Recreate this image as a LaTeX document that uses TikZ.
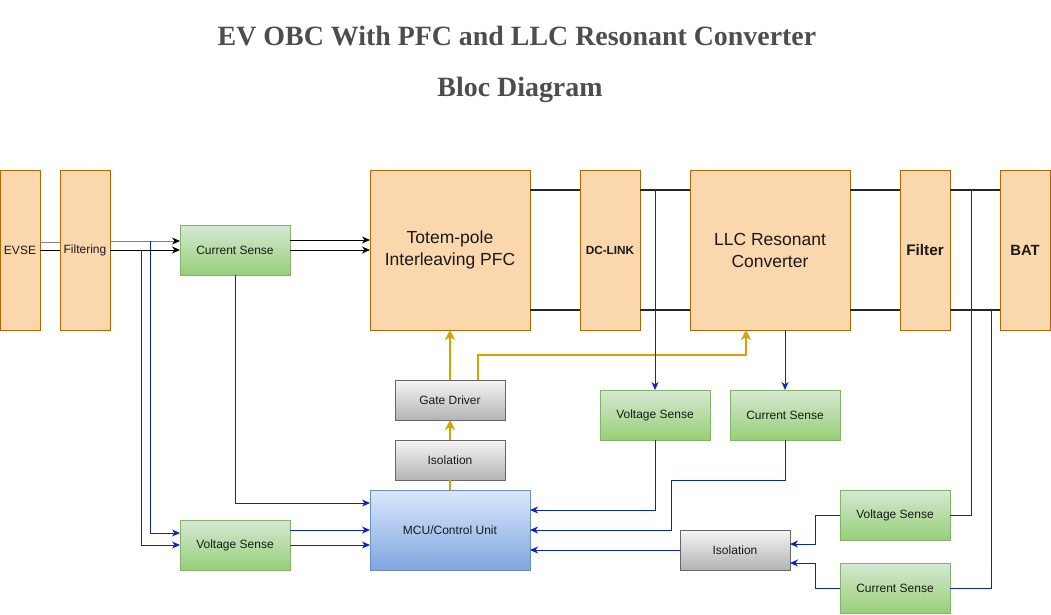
\documentclass[tikz,border=0pt]{standalone}
\usepackage{fontspec}
\setmainfont{Liberation Sans}
\newfontfamily\titlefont{Liberation Serif}
\usetikzlibrary{arrows.meta,calc}
\definecolor{orF}{HTML}{FAD7AC}
\definecolor{orD}{HTML}{B46504}
\definecolor{grT}{HTML}{D5E8D4}
\definecolor{grB}{HTML}{97D077}
\definecolor{grD}{HTML}{82B366}
\definecolor{gyT}{HTML}{F5F5F5}
\definecolor{gyB}{HTML}{B3B3B3}
\definecolor{gyD}{HTML}{666666}
\definecolor{buT}{HTML}{DAE8FC}
\definecolor{buB}{HTML}{7EA6E0}
\definecolor{buD}{HTML}{6C8EBF}
\definecolor{lnB}{HTML}{0A24C4}
\definecolor{gold}{HTML}{DDA000}
\definecolor{ttl}{HTML}{4D4D4D}
\definecolor{txt}{HTML}{1A1A1A}
\tikzset{
  base/.style={rectangle, inner sep=0pt, outer sep=0pt, line width=1pt, align=center, text=txt, font=\fontsize{12}{14}\selectfont},
  mainblk/.style={base, fill=orF, draw=orD},
  sensebox/.style={base, top color=grT, bottom color=grB, draw=grD, minimum width=110pt, minimum height=50pt},
  graybox/.style={base, top color=gyT, bottom color=gyB, draw=gyD, minimum width=110pt, minimum height=40pt},
  mcubox/.style={base, top color=buT, bottom color=buB, draw=buD},
  tip/.style={-{Stealth[length=8pt,width=7pt,inset=2.5pt]}},
  bline/.style={draw=lnB, line width=1pt},
  kline/.style={draw=black, line width=1pt},
  thick line/.style={draw=black!85, line width=2pt},
  oline/.style={draw=gold, line width=2pt},
  otip/.style={-{Stealth[length=10pt,width=10pt,inset=3pt]}},
}
\begin{document}
\begin{tikzpicture}[x=1pt,y=-1pt]
\path[use as bounding box] (0,0) rectangle (1051,614);
% titles
\node[text=ttl, font=\titlefont\bfseries\fontsize{27.9}{30}\selectfont] (t1) at (517,36) {EV OBC With PFC and LLC Resonant Converter};
\node[text=ttl, anchor=base, font=\titlefont\bfseries\fontsize{27.9}{30}\selectfont] (t2) at (520,96.5) {Bloc Diagram};
% main blocks
\node[mainblk, minimum width=40pt, minimum height=160pt] (evse) at (20,250) {EVSE};
\node[mainblk, minimum width=50pt, minimum height=160pt] (fil) at (85,250) {Filtering};
\node[mainblk, minimum width=160pt, minimum height=160pt, font=\fontsize{17.5}{22}\selectfont] (pfc) at (450,250) {Totem-pole\\Interleaving PFC};
\node[mainblk, minimum width=60pt, minimum height=160pt, font=\bfseries\fontsize{11.8}{14}\selectfont] (dcl) at (610,250) {DC-LINK};
\node[mainblk, minimum width=160pt, minimum height=160pt, font=\fontsize{17.5}{22}\selectfont] (llc) at (770,250) {LLC Resonant\\Converter};
\node[mainblk, minimum width=50pt, minimum height=160pt, font=\bfseries\fontsize{15.3}{18}\selectfont] (flt) at (925,250) {Filter};
\node[mainblk, minimum width=50pt, minimum height=160pt, font=\bfseries\fontsize{14.8}{18}\selectfont] (bat) at (1025,250) {BAT};
% sense boxes
\node[sensebox] (cs1) at (235,250) {Current Sense};
\node[sensebox] (vs1) at (235,545) {Voltage Sense};
\node[sensebox] (vs2) at (655,415) {Voltage Sense};
\node[sensebox] (cs2) at (785,415) {Current Sense};
\node[sensebox] (vs3) at (895,515) {Voltage Sense};
\node[sensebox] (cs3) at (895,588) {Current Sense};
% gray boxes
\node[graybox] (gd) at (450,400) {Gate Driver};
\node[graybox] (iso1) at (450,460) {Isolation};
\node[graybox] (iso2) at (735,550) {Isolation};
% MCU
\node[mcubox, minimum width=160pt, minimum height=80pt] (mcu) at (450,530) {MCU/Control Unit};
% junction coordinates
\coordinate (j1) at (150,241);
\coordinate (j2) at (141,250);
\coordinate (j3) at (655,190);
\coordinate (j4) at (671,480);
\coordinate (j5) at (971,190);
\coordinate (j6) at (991,310);
% input lines
\draw[draw=gray, line width=1pt] ([yshift=8pt]evse.east) -- ([yshift=8pt]fil.west);
\draw[kline] (evse.east) -- (fil.west);
\draw[draw=gray, line width=1pt, -{Stealth[length=8pt,width=7pt,inset=2.5pt,color=black]}] ([yshift=9pt]fil.east) -- ([yshift=9pt]cs1.west);
\draw[kline, tip] (fil.east) -- (cs1.west);
\draw[kline, tip] ([yshift=10pt]cs1.east) -- ([yshift=10pt]pfc.west);
\draw[kline, tip] (cs1.east) -- (pfc.west);
% power path
\foreach \a/\b in {pfc/dcl, dcl/llc, llc/flt, flt/bat}{
  \draw[thick line] ([yshift=60pt]\a.east) -- ([yshift=60pt]\b.west);
  \draw[thick line] ([yshift=-60pt]\a.east) -- ([yshift=-60pt]\b.west);
}
% left sensing
\draw[bline, tip] (j1) |- ([yshift=12pt]vs1.west);
\draw[bline, tip] (j2) |- (vs1.west);
\draw[bline, tip] (cs1.south) |- ([yshift=27pt]mcu.west);
\draw[bline, tip] ([yshift=15pt]vs1.east) -- (mcu.west);
\draw[bline, tip] (vs1.east) -- ([yshift=-15pt]mcu.west);
% gate drive
\draw[oline, otip] (gd.north) -- (pfc.south);
\draw[oline, otip] ([xshift=28pt]gd.north) |- ($([xshift=-24pt]llc.south)+(0,25)$) -- ([xshift=-24pt]llc.south);
\draw[oline, otip] (iso1.north) -- (gd.south);
\draw[oline] (mcu.north) -- (iso1.south);
% mid sensing
\draw[bline, tip] (j3) -- (vs2.north);
\draw[bline, tip] (cs2.north |- llc.south) -- (cs2.north);
\draw[bline, tip] (vs2.south) |- ([yshift=20pt]mcu.east);
\draw[bline, tip] (cs2.south) |- (j4) |- (mcu.east);
\draw[bline, tip] (iso2.west) -- ([yshift=-20pt]mcu.east);
% right sensing
\draw[bline, tip] (vs3.west) -- ++(-25,0) |- ([yshift=6pt]iso2.east);
\draw[bline, tip] (cs3.west) -- ++(-25,0) |- ([yshift=-13pt]iso2.east);
\draw[bline] (j5) |- (vs3.east);
\draw[bline] (j6) |- (cs3.east);
\end{tikzpicture}
\end{document}
